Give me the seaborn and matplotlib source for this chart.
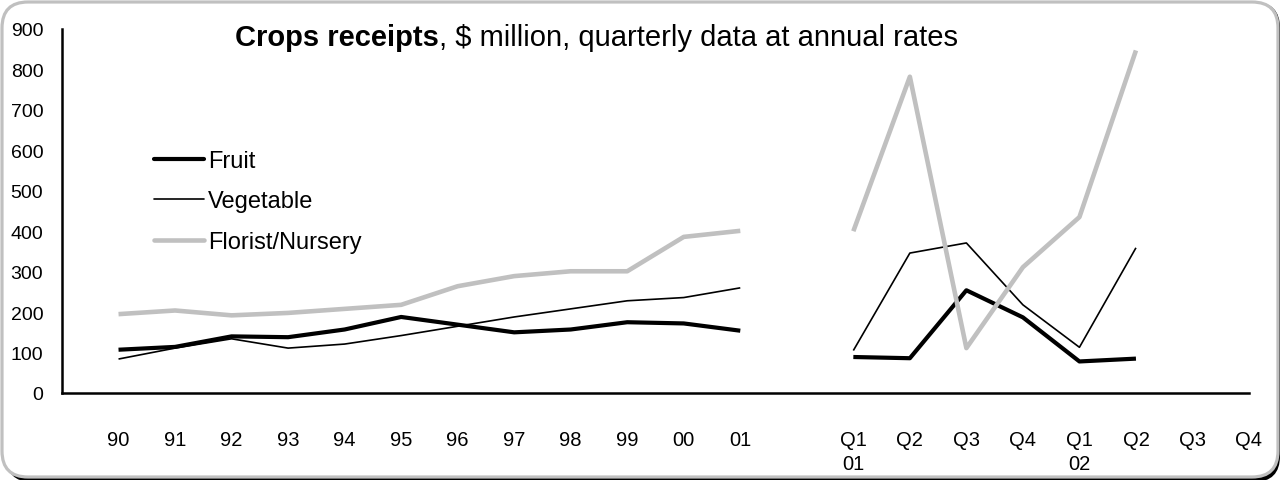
import numpy as np
import pandas as pd
import matplotlib
matplotlib.use("Agg")
import matplotlib.pyplot as plt
import seaborn as sns
from matplotlib.patches import FancyBboxPatch
from matplotlib.lines import Line2D
from matplotlib.transforms import IdentityTransform

# Category labels: annual years, one empty slot, then quarters
years = ["90", "91", "92", "93", "94", "95", "96", "97", "98", "99", "00", "01"]
quarters = ["Q1\n01", "Q2", "Q3", "Q4", "Q1\n02", "Q2", "Q3", "Q4"]

# Values ($ million)
fruit_annual = [107, 114, 140, 138, 157, 188, 169, 150, 157, 175, 172, 154]
fruit_quarterly = [89, 86, 254, 187, 78, 85]
veg_annual = [84, 111, 134, 111, 121, 142, 165, 188, 208, 228, 236, 260]
veg_quarterly = [105, 346, 371, 218, 113, 359]
florist_annual = [195, 204, 192, 198, 208, 218, 264, 289, 301, 301, 386, 401]
florist_quarterly = [400, 782, 111, 311, 435, 847]

series_names = ["Fruit", "Vegetable", "Florist/Nursery"]
series_colors = ["black", "black", "#c0c0c0"]
series_widths = [3.0, 1.2, 3.3]

labels = years + [""] + quarters
x_year = np.arange(len(years))
x_quarter = np.arange(len(quarters)) + len(years) + 1

rows = []
for name, ann, qtr in [("Fruit", fruit_annual, fruit_quarterly),
                       ("Vegetable", veg_annual, veg_quarterly),
                       ("Florist/Nursery", florist_annual, florist_quarterly)]:
    for x, v in zip(x_year, ann):
        rows.append({"series": name, "segment": "annual", "x": x, "value": v})
    for x, v in zip(x_quarter, qtr):
        rows.append({"series": name, "segment": "quarterly", "x": x, "value": v})
df = pd.DataFrame(rows)

sns.set_style("white")
plt.rcParams["font.family"] = ["Liberation Sans", "DejaVu Sans"]
plt.rcParams["text.color"] = "black"

fig = plt.figure(figsize=(12.82, 4.81), dpi=100)
fig.patch.set_facecolor("white")

# rounded frame with dark shadow on the right
W, H = 1282, 481
shadow = FancyBboxPatch((6, -2), W - 8, H - 1, boxstyle="round,pad=0,rounding_size=26",
                        transform=IdentityTransform(), facecolor="black", edgecolor="black",
                        linewidth=0, zorder=-20)
frame = FancyBboxPatch((2, 3), W - 6, H - 6, boxstyle="round,pad=0,rounding_size=26",
                       transform=IdentityTransform(), facecolor="white", edgecolor="#c0c0c0",
                       linewidth=2.3, zorder=-10)
fig.patches.extend([shadow, frame])

ax = fig.add_axes([62 / W, (H - 394) / H, (1249 - 62) / W, (394 - 30) / H])
ax.set_facecolor("none")

for name, color, lw in zip(series_names, series_colors, series_widths):
    for seg in ["annual", "quarterly"]:
        d = df[(df["series"] == name) & (df["segment"] == seg)]
        sns.lineplot(data=d, x="x", y="value", color=color, linewidth=lw,
                     ax=ax, legend=False, solid_capstyle="butt")

ax.set_xlim(-1, len(labels) - 1)
ax.set_ylim(0, 900)
ax.set_xticks(np.arange(len(labels)))
ax.set_xticklabels(labels, linespacing=1.3)
ax.set_yticks(np.arange(0, 901, 100))
ax.set_xlabel("")
ax.set_ylabel("")

for side in ["top", "right"]:
    ax.spines[side].set_visible(False)
for side in ["left", "bottom"]:
    ax.spines[side].set_linewidth(1.8)
    ax.spines[side].set_color("black")

ax.tick_params(axis="x", direction="in", length=4, width=1.3, pad=27, labelsize=14.5, colors="black")
ax.tick_params(axis="y", direction="in", length=4, width=1.3, pad=13.5, labelsize=14, colors="black")

handles = [Line2D([0], [0], color=c, linewidth=w) for c, w in zip(series_colors, series_widths)]
fig.legend(handles, series_names, loc="upper left", bbox_to_anchor=(154 / W, 1 - 151 / H),
           frameon=False, fontsize=17, handlelength=2.1, handletextpad=0.2,
           labelspacing=0.78, borderpad=0, borderaxespad=0, labelcolor="black")

# title: bold lead-in followed by regular text
fig.canvas.draw()
renderer = fig.canvas.get_renderer()
t1 = fig.text(235 / W, 1 - 38 / H, "Crops receipts", fontsize=21, fontweight="bold",
              ha="left", va="center", color="black")
bb = t1.get_window_extent(renderer)
fig.text(bb.x1 / W, 1 - 38 / H, ", $ million, quarterly data at annual rates", fontsize=21,
         ha="left", va="center", color="black")

fig.savefig("out.png", dpi=100)
